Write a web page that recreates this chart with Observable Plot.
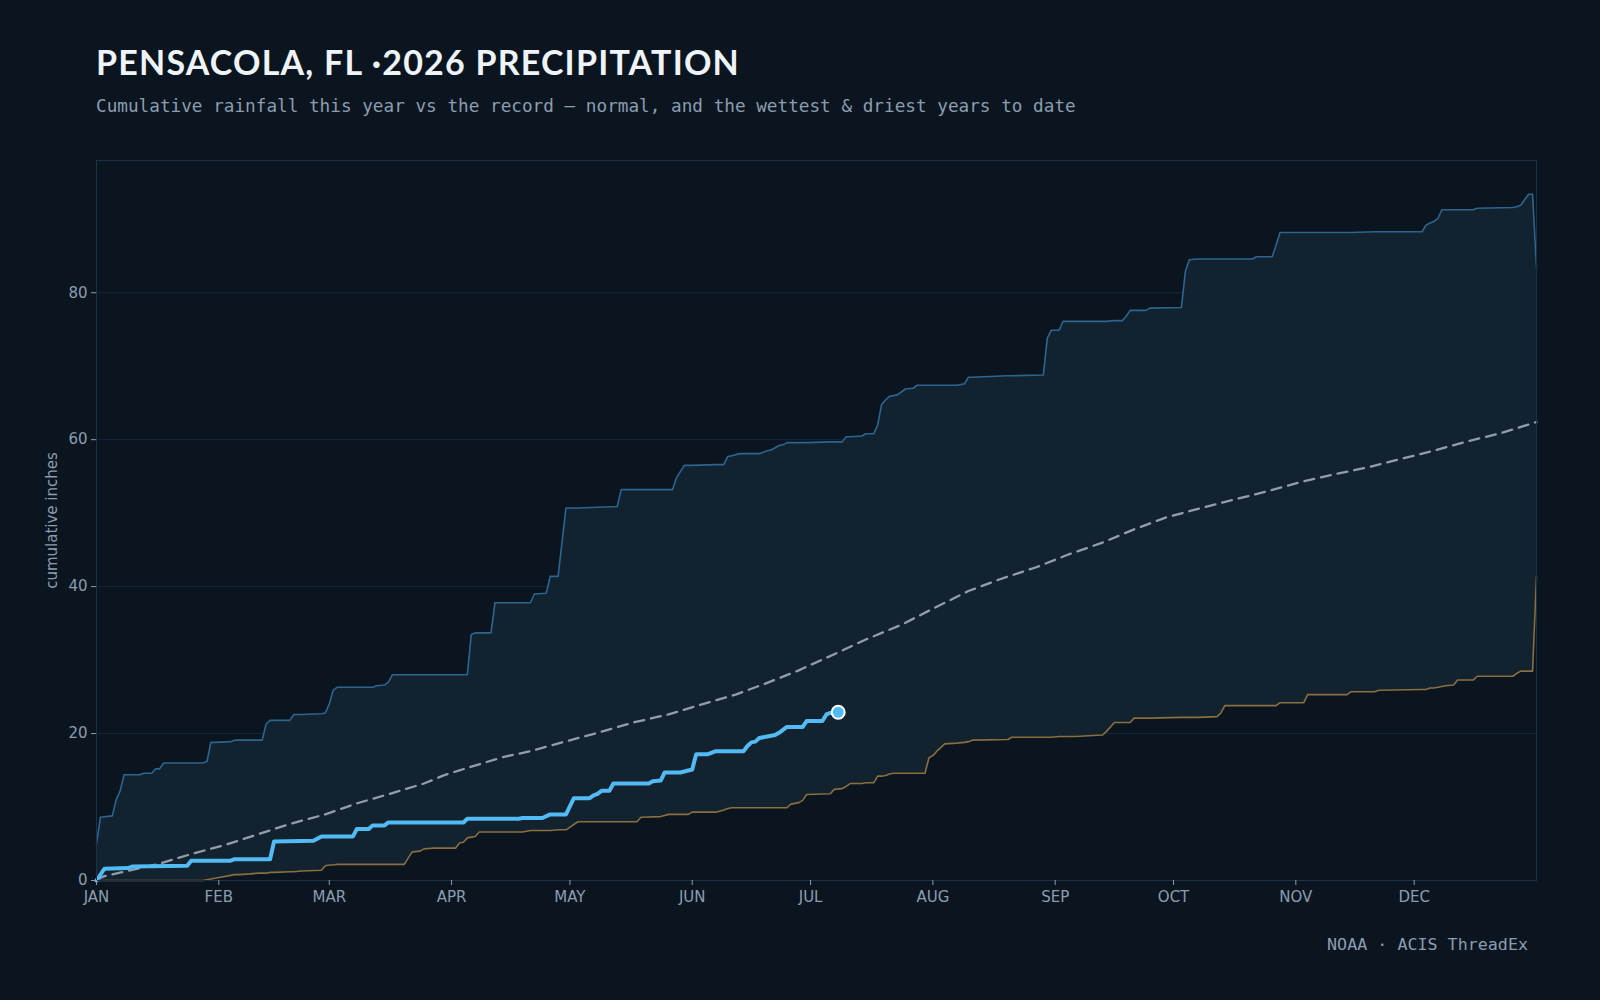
<!DOCTYPE html>
<html>
<head>
<meta charset="utf-8">
<script src="https://cdn.jsdelivr.net/npm/d3@7"></script>
<script src="https://cdn.jsdelivr.net/npm/@observablehq/plot@0.6"></script>
<style>
  html, body { margin: 0; background: #0b1520; }
  #page { position: relative; width: 1600px; height: 1000px; overflow: hidden; }
  #title { position: absolute; left: 96px; top: 45px; margin: 0; font: 700 34px/1 Lato, sans-serif; letter-spacing: 1.2px; color: #eef4fa; white-space: nowrap; }
  #subtitle { position: absolute; left: 96px; top: 98px; margin: 0; font: 17.7px/1 "DejaVu Sans Mono", monospace; color: #8b9db0; white-space: nowrap; }
  #chart { position: absolute; left: 0; top: 0; }
  #caption { position: absolute; right: 72px; top: 936px; font: 16.7px/1 "DejaVu Sans Mono", monospace; color: #8b9db0; white-space: nowrap; }
</style>
</head>
<body>
<div id="page">
  <div id="chart"></div>
  <h1 id="title">PENSACOLA, FL ·2026 PRECIPITATION</h1>
  <p id="subtitle">Cumulative rainfall this year vs the record — normal, and the wettest &amp; driest years to date</p>
  <div id="caption">NOAA · ACIS ThreadEx</div>
</div>
<script>
// Month ticks (day-of-year index, 0 = Jan 1)
const monthStarts = [0, 31, 59, 90, 120, 151, 181, 212, 243, 273, 304, 334];
const monthLabels = ["JAN", "FEB", "MAR", "APR", "MAY", "JUN", "JUL", "AUG", "SEP", "OCT", "NOV", "DEC"];
const yTicks = [0, 20, 40, 60, 80];

// Record envelope: wettest and driest year-to-date totals (inches)
const bandDays = [
  0, 1, 4, 5, 6, 7, 11, 12, 14, 15,
  16, 17, 27, 28, 29, 30, 34, 35, 36, 39,
  41, 42, 43, 44, 45, 49, 50, 52, 57, 58,
  59, 60, 61, 70, 71, 73, 74, 75, 78, 80,
  82, 83, 85, 91, 92, 93, 94, 95, 96, 97,
  100, 101, 108, 110, 111, 114, 115, 117, 119, 122,
  132, 133, 137, 138, 143, 145, 146, 147, 149, 150,
  151, 157, 159, 160, 161, 163, 168, 170, 171, 173,
  174, 175, 176, 178, 179, 180, 186, 187, 189, 190,
  191, 194, 195, 197, 198, 199, 200, 201, 202, 203,
  205, 207, 208, 210, 211, 212, 213, 215, 218, 220,
  221, 222, 231, 232, 240, 241, 242, 244, 245, 248,
  255, 256, 258, 260, 261, 262, 263, 266, 267, 275,
  276, 277, 279, 284, 285, 286, 293, 294, 298, 299,
  300, 306, 307, 317, 318, 324, 325, 336, 337, 338,
  339, 340, 341, 342, 344, 345, 349, 350, 359, 360,
  361, 363, 364, 365
];
const wettest = [
  5.0, 8.6, 8.8, 11.0, 12.2, 14.4, 14.4, 14.6, 14.6, 15.2,
  15.2, 16.0, 16.0, 16.2, 18.8, 18.8, 18.9, 19.1, 19.1, 19.1,
  19.1, 19.1, 21.3, 21.8, 21.8, 21.8, 22.6, 22.6, 22.7, 22.8,
  24.0, 25.9, 26.3, 26.3, 26.5, 26.6, 27.0, 28.0, 28.0, 28.0,
  28.0, 28.0, 28.0, 28.0, 28.0, 28.0, 28.0, 33.5, 33.7, 33.7,
  33.7, 37.8, 37.8, 37.8, 39.0, 39.1, 41.4, 41.4, 50.7, 50.7,
  50.9, 53.2, 53.2, 53.2, 53.2, 53.2, 53.2, 54.8, 56.5, 56.5,
  56.5, 56.6, 56.6, 57.7, 57.8, 58.1, 58.1, 58.5, 58.6, 59.2,
  59.3, 59.6, 59.6, 59.6, 59.6, 59.6, 59.7, 59.7, 59.7, 60.4,
  60.4, 60.5, 60.8, 60.8, 62.0, 64.8, 65.4, 65.9, 66.0, 66.1,
  66.9, 67.0, 67.4, 67.4, 67.4, 67.4, 67.4, 67.4, 67.4, 67.6,
  68.5, 68.5, 68.7, 68.7, 68.8, 73.8, 74.9, 74.9, 76.1, 76.1,
  76.1, 76.1, 76.2, 76.2, 76.8, 77.6, 77.6, 77.6, 77.9, 78.0,
  82.9, 84.5, 84.6, 84.6, 84.6, 84.6, 84.6, 84.9, 84.9, 86.5,
  88.2, 88.2, 88.2, 88.2, 88.2, 88.3, 88.3, 88.3, 89.2, 89.5,
  89.7, 90.1, 91.3, 91.3, 91.3, 91.3, 91.3, 91.5, 91.6, 91.7,
  91.9, 93.4, 93.4, 83.4
];
const driest = [
  0, 0, 0, 0, 0, 0, 0, 0, 0, 0,
  0, 0, 0, 0.1, 0.2, 0.3, 0.7, 0.8, 0.8, 0.9,
  1.0, 1.0, 1.0, 1.1, 1.1, 1.2, 1.2, 1.3, 1.4, 2.0,
  2.1, 2.1, 2.2, 2.2, 2.2, 2.2, 2.2, 2.2, 2.2, 3.9,
  4.0, 4.3, 4.4, 4.4, 5.1, 5.2, 5.8, 5.9, 6.0, 6.6,
  6.6, 6.6, 6.6, 6.8, 6.8, 6.8, 6.8, 6.9, 6.9, 8.0,
  8.0, 8.0, 8.0, 8.6, 8.7, 9.0, 9.0, 9.0, 9.0, 9.0,
  9.3, 9.3, 9.6, 9.8, 9.9, 9.9, 9.9, 9.9, 9.9, 9.9,
  9.9, 9.9, 10.4, 10.6, 10.9, 11.7, 11.8, 12.4, 12.5, 12.8,
  13.2, 13.2, 13.3, 13.3, 14.2, 14.2, 14.3, 14.5, 14.6, 14.6,
  14.6, 14.6, 14.6, 14.6, 16.7, 17.0, 17.6, 18.6, 18.7, 18.8,
  18.9, 19.1, 19.2, 19.5, 19.5, 19.5, 19.5, 19.6, 19.6, 19.6,
  19.8, 20.3, 21.5, 21.5, 21.5, 21.5, 22.1, 22.1, 22.1, 22.2,
  22.2, 22.2, 22.2, 22.3, 22.8, 23.8, 23.8, 23.8, 23.8, 23.8,
  24.2, 24.2, 25.3, 25.3, 25.7, 25.7, 25.9, 26.0, 26.0, 26.2,
  26.2, 26.3, 26.4, 26.5, 26.6, 27.3, 27.3, 27.8, 27.8, 28.2,
  28.5, 28.5, 28.5, 41.4
];

// Normal cumulative precipitation
const normalDays = [
  0, 2, 16, 24, 33, 49, 58, 66, 75, 83,
  88, 92, 103, 110, 118, 127, 136, 145, 153, 162,
  170, 178, 187, 195, 204, 212, 221, 229, 238, 246,
  255, 263, 271, 280, 288, 297, 305, 313, 322, 330,
  339, 347, 356, 365
];
const normalValues = [
  0.1, 0.6, 2.3, 3.6, 4.9, 7.7, 9.0, 10.5, 11.9, 13.2,
  14.3, 15.0, 16.8, 17.6, 18.8, 20.1, 21.5, 22.6, 23.9, 25.3,
  26.9, 28.6, 30.8, 32.8, 34.8, 37.0, 39.4, 41.0, 42.6, 44.3,
  46.0, 47.8, 49.4, 50.7, 51.8, 53.0, 54.2, 55.2, 56.2, 57.3,
  58.5, 59.7, 60.9, 62.4
];

// 2026 year to date
const currentDays = [
  0, 2, 8, 9, 23, 24, 34, 35, 44, 45,
  55, 57, 65, 66, 69, 70, 73, 74, 93, 94,
  107, 108, 113, 115, 119, 121, 125, 126, 127, 128,
  130, 131, 140, 141, 143, 144, 148, 151, 152, 155,
  157, 164, 165, 166, 167, 168, 170, 172, 173, 175,
  179, 180, 184, 185, 186, 188
];
const currentValues = [
  0, 1.6, 1.7, 1.9, 2.0, 2.7, 2.7, 2.9, 2.9, 5.3,
  5.4, 6.0, 6.0, 7.0, 7.0, 7.5, 7.5, 7.9, 7.9, 8.4,
  8.4, 8.5, 8.5, 9.0, 9.0, 11.2, 11.2, 11.6, 11.8, 12.2,
  12.2, 13.2, 13.2, 13.5, 13.6, 14.7, 14.7, 15.1, 17.2, 17.2,
  17.6, 17.6, 18.3, 18.8, 18.9, 19.4, 19.6, 19.8, 20.1, 20.9,
  20.9, 21.7, 21.7, 22.6, 22.8, 22.9
];

const band = bandDays.map((day, i) => ({day, hi: wettest[i], lo: driest[i]}));
const normal = normalDays.map((day, i) => ({day, value: normalValues[i]}));
const current = currentDays.map((day, i) => ({day, value: currentValues[i]}));

const ink = "#8b9db0";

const chart = Plot.plot({
  width: 1600,
  height: 940,
  marginTop: 160,
  marginBottom: 60,
  marginLeft: 96,
  marginRight: 64,
  style: {background: "transparent", color: ink, fontSize: "15px", fontFamily: "'DejaVu Sans', sans-serif"},
  x: {domain: [0, 365]},
  y: {domain: [0, 98]},
  marks: [
    Plot.gridY([20, 40, 60, 80], {stroke: "#15273a", strokeOpacity: 1}),
    Plot.areaY(band, {x: "day", y1: "lo", y2: "hi", fill: "#12222f"}),
    Plot.lineY(band, {x: "day", y: "hi", stroke: "#2b6590", strokeWidth: 1.6}),
    Plot.lineY(band, {x: "day", y: "lo", stroke: "#8a6f40", strokeWidth: 1.6}),
    Plot.lineY(normal, {x: "day", y: "value", stroke: "#909eac", strokeWidth: 2.3, strokeDasharray: "10,7"}),
    Plot.lineY(current, {x: "day", y: "value", stroke: "#52baf4", strokeWidth: 4, strokeLinejoin: "round", strokeLinecap: "round"}),
    Plot.dot(current.slice(-1), {x: "day", y: "value", r: 6.5, fill: "#52baf4", stroke: "#ffffff", strokeWidth: 2}),
    Plot.frame({stroke: "#1b3146"}),
    Plot.axisX(monthStarts, {tickFormat: (d) => monthLabels[monthStarts.indexOf(d)], tickSize: 5, tickPadding: 6, stroke: ink, label: null}),
    Plot.axisY(yTicks, {tickSize: 5, tickPadding: 4, stroke: ink, label: "cumulative inches", labelAnchor: "center", labelArrow: "none", labelOffset: 50})
  ]
});
document.getElementById("chart").appendChild(chart);
</script>
</body>
</html>
